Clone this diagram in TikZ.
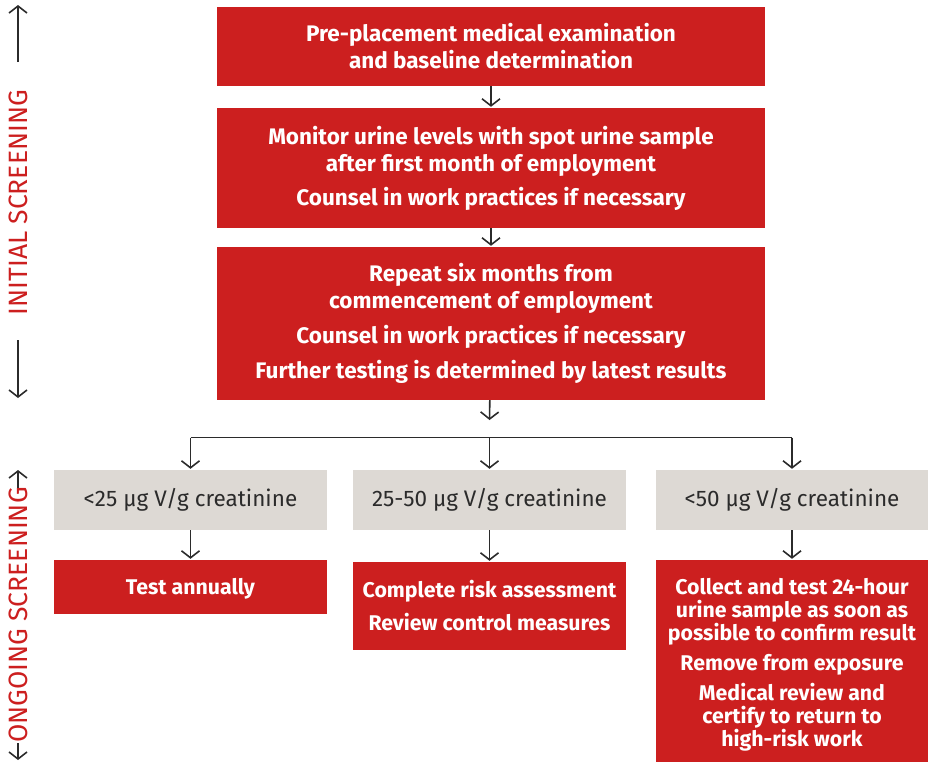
\documentclass[tikz,border=0pt]{standalone}
\usepackage{fontspec}
\setmainfont{Fira Sans}
\usetikzlibrary{arrows.meta, positioning, calc}
\definecolor{scRed}{HTML}{CC1F1F}
\definecolor{scGrey}{HTML}{DDD9D4}
\definecolor{scInk}{HTML}{2B2B2B}
\tikzset{
  scred/.style={rectangle, fill=scRed, text=white, font=\fontsize{22.5}{27}\selectfont\bfseries,
                align=center, inner sep=0pt},
  scact/.style={scred, font=\fontsize{21.3}{23}\selectfont\bfseries},
  scgrey/.style={rectangle, fill=scGrey, text=scInk, font=\fontsize{22.5}{27}\selectfont,
                 align=center, inner sep=0pt, minimum height=60pt},
  scflow/.style={-{Straight Barb[length=7pt, width=18pt]}, line width=1.6pt, color=scInk},
  sclabel/.style={text=scRed, font=\fontsize{26.5}{30}\selectfont, rotate=90, inner sep=0pt},
}
\begin{document}
\begin{tikzpicture}[x=1pt, y=1pt]
  \useasboundingbox (0,0) rectangle (928,-763);
  % initial screening
  \node[scred, minimum width=548pt, minimum height=79pt] (exam) at (491,-46.5)
    {Pre-placement medical examination\\and baseline determination};
  \node[scred, minimum width=548pt, minimum height=120pt] (month) at (491,-168)
    {Monitor urine levels with spot urine sample\\after first month of employment\\[7pt]
     Counsel in work practices if necessary};
  \node[scred, minimum width=548pt, minimum height=153pt] (six) at (491,-323.5)
    {Repeat six months from\\commencement of employment\\[8pt]
     Counsel in work practices if necessary\\[8pt]
     Further testing is determined by latest results};
  % result bands
  \node[scgrey, minimum width=273pt] (low) at (190.5,-500) {<25 µg V/g creatinine};
  \node[scgrey, minimum width=273pt] (mid) at (489.5,-500) {25-50 µg V/g creatinine};
  \node[scgrey, minimum width=272pt] (high) at (792,-500) {<50 µg V/g creatinine};
  % actions
  \node[scact, minimum width=273pt, minimum height=54pt] (annual) at (190.5,-587) {\rule{0pt}{19pt}Test annually};
  \node[scact, minimum width=273pt, minimum height=88pt] (risk) at (489.5,-606)
    {Complete risk assessment\\[10pt]Review control measures};
  \node[scact, minimum width=272pt, minimum height=202pt] (remove) at (792,-661)
    {\rule{0pt}{24pt}Collect and test 24-hour\\urine sample as soon as\\possible to confirm result\\[7pt]
     Remove from exposure\\[7pt]
     Medical review and\\certify to return to\\high-risk work};
  % side labels
  \node[sclabel] (initlbl) at (18,-202.5) {INITIAL SCREENING};
  \node[sclabel] (onglbl) at (18,-615) {ONGOING SCREENING};
  \coordinate (initfrom) at (18,-62);
  \coordinate (initup) at (18,-5);
  \coordinate (initto) at (18,-340);
  \coordinate (initdn) at (18,-398);
  \coordinate (ongfrom) at (18,-488);
  \coordinate (ongup) at (18,-470);
  \coordinate (ongto) at (18,-743);
  \coordinate (ongdn) at (18,-760);
  \draw[scflow] (initfrom) -- (initup);
  \draw[scflow] (initto) -- (initdn);
  \draw[scflow] (ongfrom) -- (ongup);
  \draw[scflow] (ongto) -- (ongdn);
  % connectors
  \draw[scflow, shorten >=1pt] (exam) -- (month);
  \draw[scflow, shorten >=1pt] (month) -- (six);
  \coordinate (split) at (489.5,-437.5);
  \coordinate (sixend) at (489.5,-420);
  \draw[scflow] (six) -- (sixend);
  \draw[line width=1.6pt, scInk] (low.north |- split) -- (high.north |- split);
  \draw[scflow, shorten >=1pt] (low.north |- split) -- (low);
  \draw[scflow, shorten >=1pt] (split) -- (mid);
  \draw[scflow, shorten >=1pt] (high.north |- split) -- (high);
  \draw[scflow, shorten >=1pt] (low) -- (annual);
  \draw[scflow, shorten >=1pt] (mid) -- (risk);
  \draw[scflow, shorten >=1pt] (high) -- (remove);
\end{tikzpicture}
\end{document}
